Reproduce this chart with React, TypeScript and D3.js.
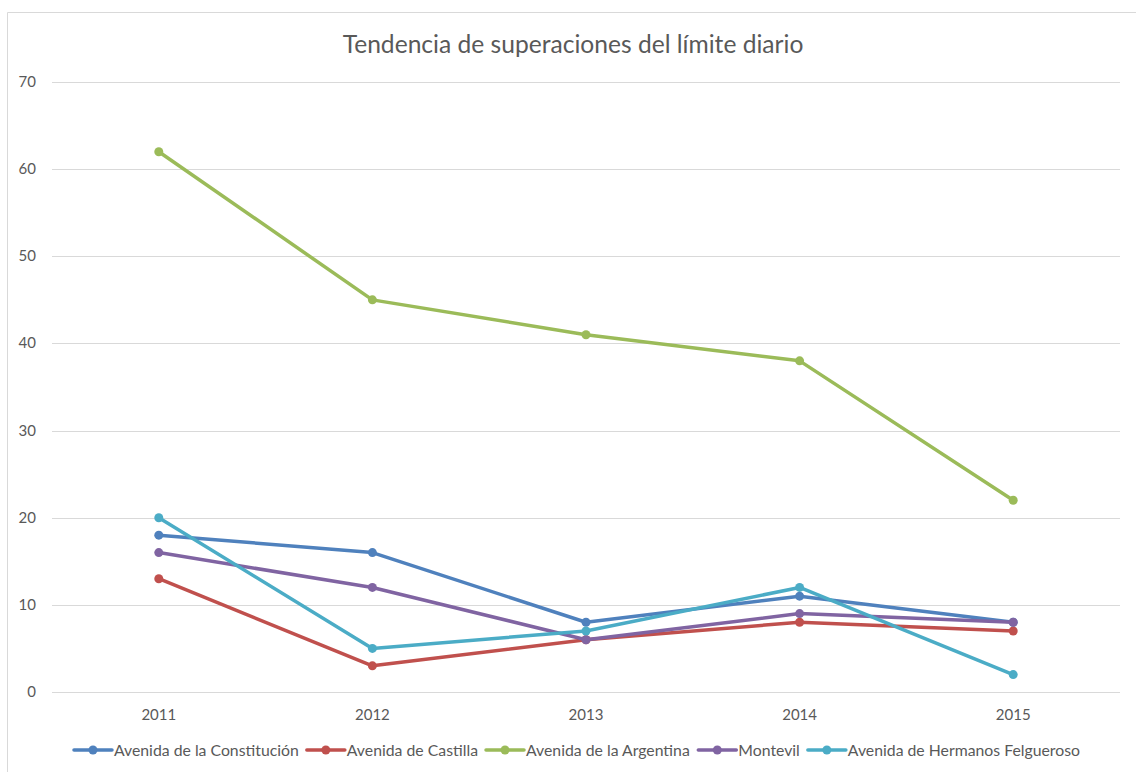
import React from "react";
import * as d3 from "d3";

const years = ["2011", "2012", "2013", "2014", "2015"];
const seriesNames = [
  "Avenida de la Constitución",
  "Avenida de Castilla",
  "Avenida de la Argentina",
  "Montevil",
  "Avenida de Hermanos Felgueroso",
];
const constitucion = [18, 16, 8, 11, 8];
const castilla = [13, 3, 6, 8, 7];
const argentina = [62, 45, 41, 38, 22];
const montevil = [16, 12, 6, 9, 8];
const felgueroso = [20, 5, 7, 12, 2];
const colors = ["#4F81BD", "#C0504D", "#9BBB59", "#8064A2", "#4BACC6"];
const yTicks = [0, 10, 20, 30, 40, 50, 60, 70];
const title = "Tendencia de superaciones del límite diario";

const FONT = "Lato, 'Open Sans', sans-serif";

function measure(text: string, font: string): number {
  const c = document.createElement("canvas");
  const ctx = c.getContext("2d");
  if (!ctx) return text.length * 7;
  ctx.font = font;
  return ctx.measureText(text).width;
}

export default function App() {
  const W = 1136, H = 772;
  const left = 52, right = 1120, top = 82, bottom = 692;
  const all = [constitucion, castilla, argentina, montevil, felgueroso];

  const x = d3.scaleBand<string>().domain(years).range([left, right]).padding(0);
  const y = d3.scaleLinear().domain([0, 70]).range([bottom, top]);
  const cx = (d: string) => (x(d) as number) + x.bandwidth() / 2;

  const line = d3
    .line<number>()
    .x((_, i) => cx(years[i]))
    .y((v) => y(v));

  // legend layout
  const legendFont = 15.8;
  const lineLen = 38, textGap = 2, itemGap = 8;
  const widths = seriesNames.map((n) => measure(n, `${legendFont}px Lato`));
  const itemW = widths.map((w) => lineLen + textGap + w);
  const total = d3.sum(itemW) + itemGap * (seriesNames.length - 1);
  let lx = 577 - total / 2;
  const legendItems = seriesNames.map((n, i) => {
    const item = { name: n, x: lx, color: colors[i] };
    lx += itemW[i] + itemGap;
    return item;
  });
  const ly = 750;

  return (
    <svg width={W} height={H} style={{ position: "absolute", left: 0, top: 0, background: "#fff" }}>
      <line x1={7.5} y1={12.5} x2={W} y2={12.5} stroke="#D9D9D9" strokeWidth={1} />
      <line x1={7.5} y1={12.5} x2={7.5} y2={H} stroke="#D9D9D9" strokeWidth={1} />
      <text x={573} y={53} textAnchor="middle" fontFamily={FONT} fontSize={24.6} fill="#595959">
        {title}
      </text>
      {yTicks.map((t) => (
        <g key={t}>
          <line x1={left} x2={right} y1={Math.round(y(t)) + 0.5} y2={Math.round(y(t)) + 0.5} stroke="#D9D9D9" strokeWidth={1} />
          <text x={36} y={y(t) + 5} textAnchor="end" fontFamily={FONT} fontSize={15} fill="#595959">
            {t}
          </text>
        </g>
      ))}
      {years.map((yr) => (
        <text key={yr} x={cx(yr)} y={720} textAnchor="middle" fontFamily={FONT} fontSize={15} fill="#595959">
          {yr}
        </text>
      ))}
      {all.map((s, i) => (
        <g key={i}>
          <path d={line(s) || ""} fill="none" stroke={colors[i]} strokeWidth={3.5} strokeLinejoin="round" strokeLinecap="round" />
          {s.map((v, j) => (
            <circle key={j} cx={cx(years[j])} cy={y(v)} r={4.5} fill={colors[i]} />
          ))}
        </g>
      ))}
      {legendItems.map((it, i) => (
        <g key={i}>
          <line x1={it.x} x2={it.x + lineLen} y1={ly} y2={ly} stroke={it.color} strokeWidth={3.5} strokeLinecap="round" />
          <circle cx={it.x + lineLen / 2} cy={ly} r={4.5} fill={it.color} />
          <text x={it.x + lineLen + textGap} y={ly + 5.5} fontFamily={FONT} fontSize={legendFont} fill="#595959">
            {it.name}
          </text>
        </g>
      ))}
    </svg>
  );
}
